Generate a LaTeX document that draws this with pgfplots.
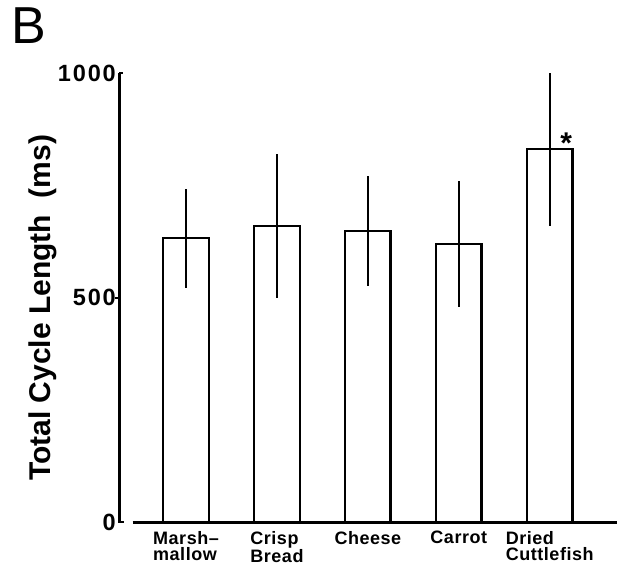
\documentclass[border=0pt]{standalone}
\usepackage{fontspec}
\setmainfont{Liberation Sans}
\newfontfamily\tickfont[LetterSpace=8]{Liberation Sans}
\newfontfamily\catfont[LetterSpace=3]{Liberation Sans}
\usepackage{pgfplots}
\usepackage{pgfplotstable}
\pgfplotsset{compat=1.18}

% mean and SD of total cycle length per food
\pgfplotstableread{
x y err
0 632 110
1 660 160
2 648 123
3 619 140
4 830 170
}\cycledata

\begin{document}
\begin{tikzpicture}[x=1pt,y=1pt]
\path[use as bounding box] (0,0) rectangle (617,570);
\node[font=\fontsize{52}{52}\selectfont, inner sep=0pt] at (29,544) {B};
\begin{axis}[
    at={(119pt,48pt)}, anchor=south west,
    scale only axis, width=498pt, height=449pt,
    xmin=-0.737, xmax=4.74, ymin=0, ymax=1000,
    clip=false,
    ybar,
    axis line style={draw=none},
    major tick length=0pt,
    ytick={0,500,1000}, yticklabels={0,500,1000},
    yticklabel style={font=\tickfont\bfseries\fontsize{23.5}{23.5}\selectfont,
        anchor=east, inner sep=0pt, xshift=-3pt},
    xtick=data,
    xticklabels={{Marsh–\\mallow},{Crisp\\Bread},{Cheese},{Carrot},{Dried\\Cuttlefish}},
    xticklabel style={font=\catfont\bfseries\fontsize{18}{16.5}\selectfont,
        align=left, anchor=north, inner sep=0pt, yshift=-9pt},
    ylabel={Total Cycle Length\ \ (ms)},
    ylabel style={at={(axis description cs:-0.1526,0.477)}, anchor=center,
        font=\bfseries\fontsize{30}{30}\selectfont, inner sep=0pt},
]
\addplot[bar width=0.5, fill=white, draw=black, line width=2.3pt,
    error bars/.cd, y dir=both, y explicit, error mark=none,
    error bar style={line width=2.3pt}]
    table[x=x, y=y, y error=err] {\cycledata};

% axes drawn by hand: the x axis starts a little right of the y axis
\draw[line width=3pt] (axis cs:-0.737,-1.5) -- (axis cs:-0.737,1000);
\draw[line width=2pt] (axis cs:-0.737,1000) -- ([xshift=4pt]axis cs:-0.737,1000);
\draw[line width=2pt] (axis cs:-0.737,0) -- ([xshift=5pt]axis cs:-0.737,0);
\draw[line width=2pt] (axis cs:-0.737,500) -- ([xshift=-4pt]axis cs:-0.737,500);
\draw[line width=3pt] (axis cs:-0.586,0) -- (axis cs:4.74,0);

\node[anchor=base, inner sep=0pt, font=\bfseries\fontsize{30}{30}\selectfont]
    at (axis cs:4.18,820) {*};
\end{axis}
\end{tikzpicture}
\end{document}
